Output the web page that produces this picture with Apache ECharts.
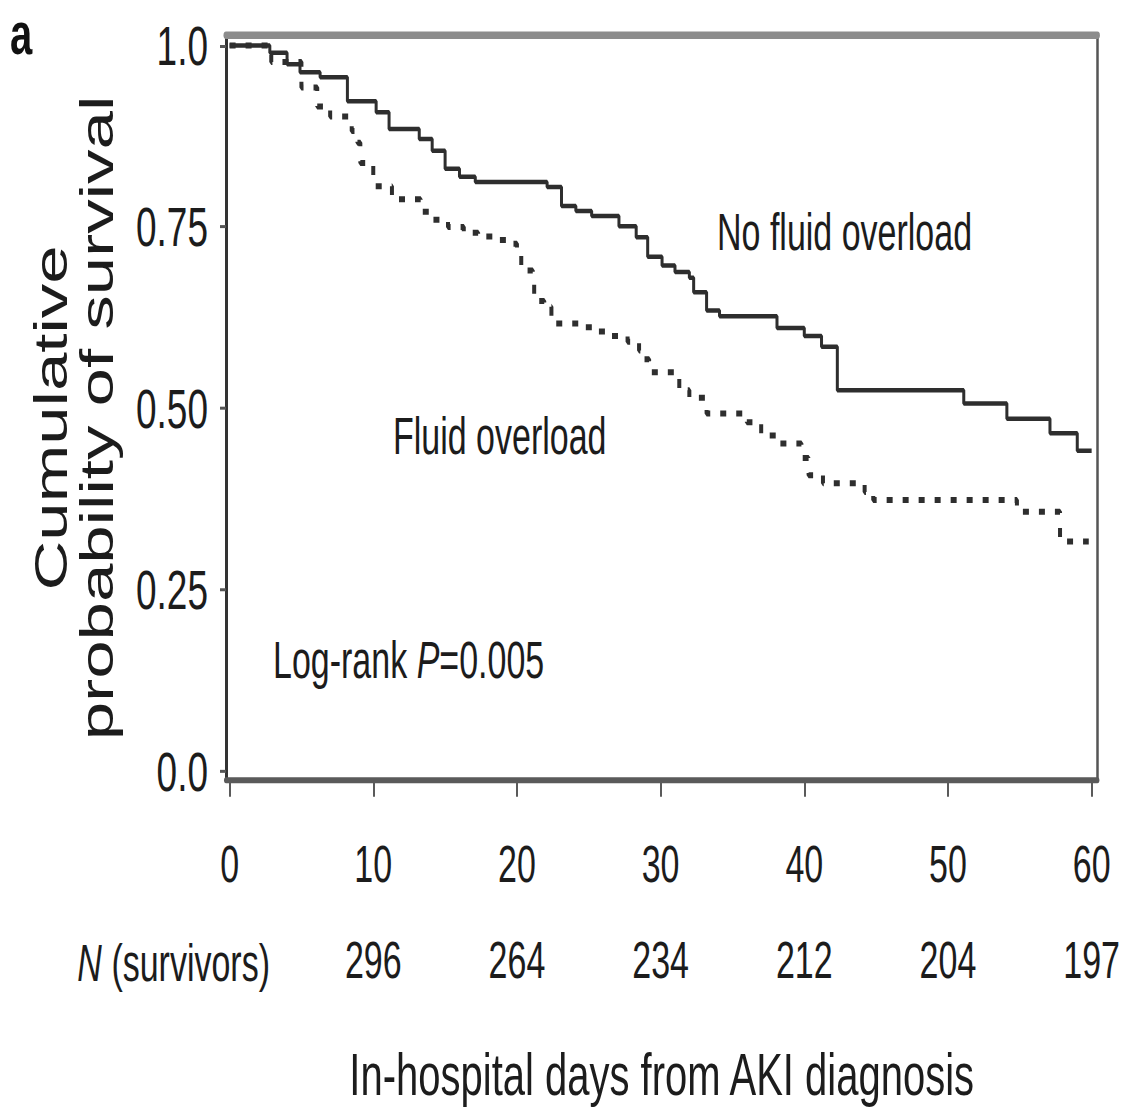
<!DOCTYPE html>
<html>
<head>
<meta charset="utf-8">
<script src="https://cdn.jsdelivr.net/npm/echarts@6/dist/echarts.min.js"></script>
<style>
  html, body { margin: 0; padding: 0; background: #fff; }
  body { width: 1123px; height: 1112px; }
  #chart { width: 1123px; height: 741px; transform: scaleY(1.50067); transform-origin: 0 0; }
</style>
</head>
<body>
<div id="chart"></div>
<script>
// ---- data (days from AKI diagnosis, cumulative survival after each step) ----
const noFoDays = [0, 2.8, 4.0, 4.9, 6.3, 8.2, 10.2, 11.1, 13.2, 14.1, 15.0, 16.0, 17.1, 22.1, 23.1, 24.1, 25.2, 27.1, 28.3, 29.1, 30.1, 31.0, 32.0, 32.3, 33.2, 34.1, 38.1, 40.0, 41.2, 42.3, 51.1, 54.1, 57.1, 59.0, 60.0];
const noFoSurv = [1.0, 0.990, 0.974, 0.963, 0.956, 0.923, 0.908, 0.885, 0.871, 0.855, 0.830, 0.819, 0.812, 0.805, 0.779, 0.772, 0.765, 0.751, 0.736, 0.709, 0.697, 0.688, 0.680, 0.660, 0.635, 0.627, 0.611, 0.600, 0.585, 0.525, 0.507, 0.486, 0.466, 0.442, 0.442];

const foDays = [0, 2.9, 5.0, 6.1, 7.0, 8.5, 8.9, 9.1, 10.0, 11.3, 13.3, 14.1, 15.2, 16.3, 17.3, 18.5, 19.3, 20.0, 20.3, 21.1, 21.2, 21.9, 22.4, 24.5, 25.5, 26.5, 27.7, 28.5, 28.8, 29.2, 31.3, 32.0, 33.2, 36.0, 37.0, 38.2, 39.8, 40.3, 41.3, 44.2, 44.8, 54.8, 57.8, 59.8];
const foSurv = [1.0, 0.977, 0.942, 0.916, 0.902, 0.882, 0.866, 0.838, 0.806, 0.788, 0.771, 0.760, 0.750, 0.742, 0.737, 0.732, 0.727, 0.712, 0.690, 0.680, 0.648, 0.640, 0.617, 0.612, 0.606, 0.600, 0.592, 0.580, 0.568, 0.550, 0.525, 0.515, 0.493, 0.481, 0.463, 0.452, 0.432, 0.408, 0.397, 0.385, 0.374, 0.358, 0.317, 0.317];

const xTicks = [0, 10, 20, 30, 40, 50, 60];
const yTicks = [0, 0.25, 0.5, 0.75, 1.0];
const yTickLabels = ['0.0', '0.25', '0.50', '0.75', '1.0'];
const survivorDays = [10, 20, 30, 40, 50, 60];
const survivorCounts = [296, 264, 234, 212, 204, 197];

const FONT = "'Liberation Sans', Arial, Helvetica, sans-serif";
const TXT = '#1c1c1c';

const chart = echarts.init(document.getElementById('chart'), null, { renderer: 'svg' });

const xMin = -0.25, xMax = 60.4, yMin = -0.012, yMax = 1.015;

chart.setOption({
  animation: false,
  backgroundColor: '#ffffff',
  grid: { left: 226, right: 25, top: 23, height: 500, containLabel: false },
  xAxis: [
    {
      type: 'value', position: 'bottom', min: xMin, max: xMax,
      splitLine: { show: false },
      axisLine: { show: true, onZero: false, lineStyle: { color: '#5a5a5a', width: 4 } },
      axisTick: { show: true, customValues: xTicks, length: 11, lineStyle: { color: '#5a5a5a', width: 2 } },
      axisLabel: { show: true, customValues: xTicks, margin: 39, fontSize: 34, fontFamily: FONT, color: TXT,
                   formatter: v => String(Math.round(v)) },
      name: 'In-hospital days from AKI diagnosis', nameLocation: 'middle', nameGap: 176,
      nameTextStyle: { fontSize: 40, fontFamily: FONT, color: TXT }
    },
    {
      type: 'value', position: 'top', min: xMin, max: xMax,
      splitLine: { show: false },
      axisLine: { show: true, onZero: false, lineStyle: { color: '#8c8c8c', width: 5 } },
      axisTick: { show: false }, axisLabel: { show: false }
    },
    {
      type: 'value', position: 'bottom', min: xMin, max: xMax,
      splitLine: { show: false },
      axisLine: { show: false }, axisTick: { show: false },
      axisLabel: { show: true, customValues: survivorDays, margin: 103, fontSize: 34, fontFamily: FONT, color: TXT,
                   formatter: v => { const i = survivorDays.indexOf(Math.round(v)); return i >= 0 ? String(survivorCounts[i]) : ''; } }
    }
  ],
  yAxis: [
    {
      type: 'value', position: 'left', min: yMin, max: yMax,
      splitLine: { show: false },
      axisLine: { show: true, onZero: false, lineStyle: { color: '#333333', width: 3 } },
      axisTick: { show: true, customValues: yTicks, length: 6, lineStyle: { color: '#555555', width: 2 } },
      axisLabel: { show: true, customValues: yTicks, margin: 18, fontSize: 37, fontFamily: FONT, color: TXT,
                   formatter: v => { let best = 0; yTicks.forEach((t, i) => { if (Math.abs(t - v) < Math.abs(yTicks[best] - v)) best = i; }); return yTickLabels[best]; } },
      name: 'Cumulative\nprobability of survival', nameLocation: 'middle', nameGap: 106, nameRotate: 90,
      nameTextStyle: { fontSize: 46, lineHeight: 46, fontFamily: FONT, color: TXT, align: 'center', padding: [0, 14, 0, 0] }
    },
    {
      type: 'value', position: 'right', min: yMin, max: yMax,
      splitLine: { show: false },
      axisLine: { show: true, onZero: false, lineStyle: { color: '#555555', width: 2.5 } },
      axisTick: { show: false }, axisLabel: { show: false }
    }
  ],
  series: [
    {
      name: 'No fluid overload', type: 'line', step: 'end', xAxisIndex: 0, yAxisIndex: 0,
      showSymbol: false, symbol: 'none',
      lineStyle: { color: '#2e2e2e', width: 3 },
      data: noFoDays.map((d, i) => [d, noFoSurv[i]])
    },
    {
      name: 'Fluid overload', type: 'line', step: 'end', xAxisIndex: 0, yAxisIndex: 0,
      showSymbol: false, symbol: 'none',
      lineStyle: { color: '#2e2e2e', width: 4, type: [6, 10] },
      data: foDays.map((d, i) => [d, foSurv[i]])
    }
  ],
  graphic: [
    { type: 'text', x: 10, y: 2, style: { text: 'a', fontSize: 40, fontWeight: 'bold', fontFamily: FONT, fill: '#111', align: 'left', verticalAlign: 'top' } },
    { type: 'text', x: 717, y: 155, style: { text: 'No fluid overload', fontSize: 34, fontFamily: FONT, fill: TXT, align: 'left', verticalAlign: 'middle' } },
    { type: 'text', x: 393, y: 291, style: { text: 'Fluid overload', fontSize: 34, fontFamily: FONT, fill: TXT, align: 'left', verticalAlign: 'middle' } },
    { type: 'text', x: 273, y: 440, style: { text: 'Log-rank {i|P}=0.005', fontSize: 34, fontFamily: FONT, fill: TXT, align: 'left', verticalAlign: 'middle',
        rich: { i: { fontStyle: 'italic', fontSize: 34, fontFamily: FONT, fill: TXT } } } },
    { type: 'text', x: 270, y: 642, style: { text: '{i|N} (survivors)', fontSize: 34, fontFamily: FONT, fill: TXT, align: 'right', verticalAlign: 'middle',
        rich: { i: { fontStyle: 'italic', fontSize: 34, fontFamily: FONT, fill: TXT } } } }
  ]
});
</script>
</body>
</html>
